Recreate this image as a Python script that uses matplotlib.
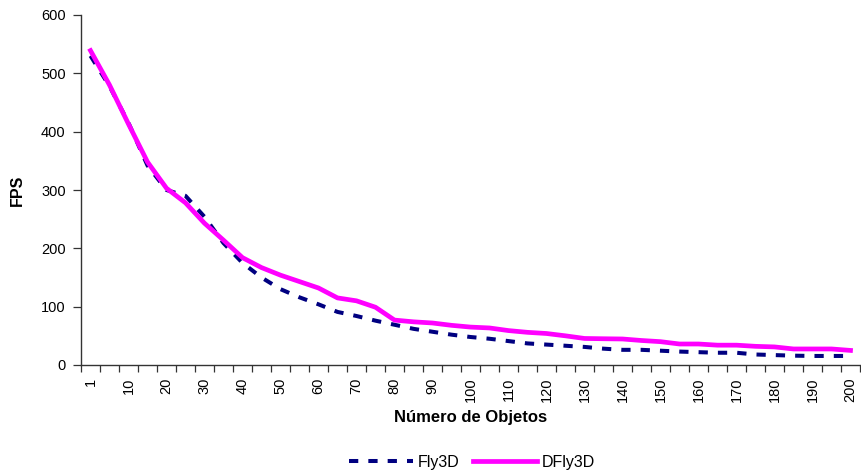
import matplotlib
matplotlib.use("Agg")
import matplotlib.pyplot as plt
import numpy as np

plt.rcParams['font.family'] = ['Liberation Sans', 'DejaVu Sans']

# Number of objects per test run
objects = [1] + list(range(5, 201, 5))

fly3d = [530, 478, 415, 342, 300, 290, 254, 209, 175, 150,
         130, 116, 104, 91, 84, 76, 69, 62, 57, 52,
         48, 45, 41, 37, 35, 33, 31, 28, 26, 26,
         24.5, 23, 22, 21, 21, 18, 17, 16, 15.5, 15.5, 15.5]

dfly3d = [539, 480, 413, 348, 303, 278, 243, 214, 184, 167,
          154, 143, 132, 115, 110, 99, 77, 74, 72, 68,
          65, 63.5, 59, 56, 54, 50, 45.5, 45, 44.6, 42,
          40, 36, 36, 34, 34, 32, 31, 27.5, 27.5, 27.5, 25]

tick_labels = [str(v) for v in objects[::2]]

fig = plt.figure(figsize=(8.61, 4.74), dpi=100)
ax = fig.add_axes([81 / 861, 109 / 474, 779 / 861, 350 / 474])

x = np.arange(len(objects))
ax.plot(x, fly3d, color='#000080', lw=2.9, dashes=(2.3, 2.5),
        solid_capstyle='butt', dash_capstyle='butt', label='Fly3D')
ax.plot(x, dfly3d, color='#FF00FF', lw=3.4, label='DFly3D')

ax.set_xlim(-0.5, len(objects) - 0.5)
ax.set_ylim(0, 600)
ax.set_yticks(range(0, 601, 100))

# category boundaries carry the tick marks, labels sit on every other category
ax.set_xticks(np.arange(-0.5, len(objects), 1.0))
ax.set_xticklabels([])
ax.set_xticks(x[::2], minor=True)
ax.set_xticklabels(tick_labels, minor=True, rotation=90, fontsize=10.5)
ax.tick_params(axis='x', which='major', length=5, width=0.9, color='#333333', direction='out')
ax.tick_params(axis='x', which='minor', length=0, pad=9)
ax.tick_params(axis='y', length=6, width=0.9, color='#333333', labelsize=10.5, pad=5)

for side in ('top', 'right'):
    ax.spines[side].set_visible(False)
for side in ('left', 'bottom'):
    ax.spines[side].set_color('#333333')
    ax.spines[side].set_linewidth(1.0)

ax.set_ylabel('FPS', fontsize=11.5, fontweight='bold')
ax.yaxis.set_label_coords(-0.072, 0.5)
ax.set_xlabel('Número de Objetos', fontsize=12, fontweight='bold')
ax.xaxis.set_label_coords(0.5, -0.128)

fig.legend(loc='center', bbox_to_anchor=(472 / 861, 1 - 462 / 474), ncol=2,
           frameon=False, fontsize=11.5, handlelength=4.0, handletextpad=0.3,
           columnspacing=0.8)

fig.savefig('out.png', dpi=100)
